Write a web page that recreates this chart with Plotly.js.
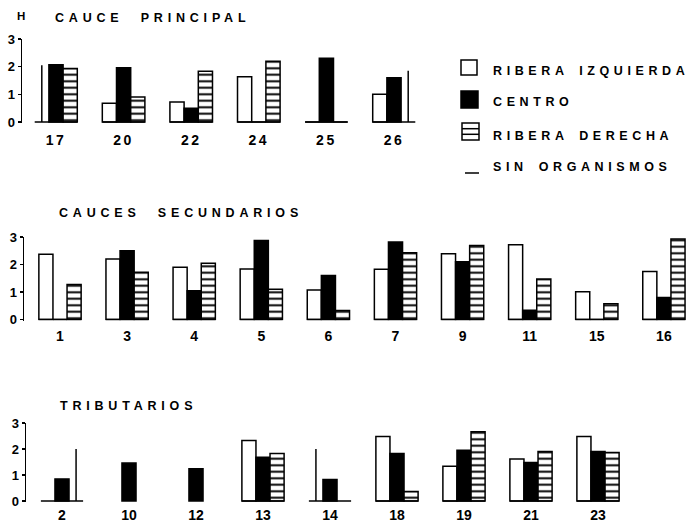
<!DOCTYPE html>
<html><head><meta charset="utf-8">
<script src="https://cdn.plot.ly/plotly-3.0.1.min.js"></script>
<style>body{margin:0;background:#fff}</style>
</head><body><div id="chart" style="width:688px;height:525px"></div>
<script>
// ---- DATA (H index per station; null = no bar; sin* = "sin organismos" marker height)
const principalSites  = ['17','20','22','24','25','26'];
const principalIzq    = [null, 0.68, 0.72, 1.64, 0, 1.0];
const principalCentro = [2.07, 1.96, 0.5, 0, 2.3, 1.6];
const principalDer    = [1.93, 0.9, 1.83, 2.2, 0, null];
const principalSinIzq = [2.05, null, null, null, null, null];
const principalSinDer = [null, null, null, null, null, 1.85];

const secundSites  = ['1','3','4','5','6','7','9','11','15','16'];
const secundIzq    = [2.37, 2.2, 1.9, 1.84, 1.07, 1.83, 2.39, 2.72, 1.01, 1.75];
const secundCentro = [0, 2.5, 1.05, 2.87, 1.6, 2.82, 2.1, 0.34, 0, 0.8];
const secundDer    = [1.27, 1.72, 2.05, 1.1, 0.33, 2.43, 2.69, 1.47, 0.57, 2.93];
const secundSinIzq = [null, null, null, null, null, null, null, null, null, null];
const secundSinDer = [null, null, null, null, null, null, null, null, null, null];

const tribSites  = ['2','10','12','13','14','18','19','21','23'];
const tribIzq    = [null, null, null, 2.33, null, 2.48, 1.34, 1.62, 2.48];
const tribCentro = [0.85, 1.46, 1.24, 1.68, 0.83, 1.83, 1.95, 1.48, 1.9];
const tribDer    = [null, null, null, 1.83, null, 0.37, 2.66, 1.9, 1.87];
const tribSinIzq = [null, null, null, null, 2.0, null, null, null, null];
const tribSinDer = [2.0, null, null, null, null, null, null, null, null];

const yTicks = [0, 1, 2, 3];
const legendLabels = ['RIBERA IZQUIERDA', 'CENTRO', 'RIBERA DERECHA', 'SIN ORGANISMOS'];
const panelTitles = ['CAUCE PRINCIPAL', 'CAUCES SECUNDARIOS', 'TRIBUTARIOS'];

// ---- LAYOUT helpers
const W = 688, H = 525, BW = 0.21, LW = 1.5;
const FONT = 'Liberation Sans, Arial, Helvetica, sans-serif';
const INK = '#000';
const px = x => x / W, py = y => 1 - y / H;

const panels = [
  {sites: principalSites, izq: principalIzq, cen: principalCentro, der: principalDer, sI: principalSinIzq, sD: principalSinDer,
   axisPx: 22, c0: 56, step: 67.6, base: 122, top: 39, tx: 53, ty: 18, stand: 7},
  {sites: secundSites, izq: secundIzq, cen: secundCentro, der: secundDer, sI: secundSinIzq, sD: secundSinDer,
   axisPx: 24, c0: 60, step: 67.1, base: 319.5, top: 237, tx: 57, ty: 213, stand: 5},
  {sites: tribSites, izq: tribIzq, cen: tribCentro, der: tribDer, sI: tribSinIzq, sD: tribSinDer,
   axisPx: 26, c0: 62, step: 67.0, base: 501, top: 423, tx: 58, ty: 406, stand: 3}
];

const data = [], shapes = [], annotations = [];
const layout = {
  width: W, height: H, margin: {l: 0, r: 0, t: 0, b: 0},
  paper_bgcolor: '#fff', plot_bgcolor: 'rgba(0,0,0,0)',
  barmode: 'overlay', showlegend: false,
  font: {family: FONT, color: INK}
};

panels.forEach((p, k) => {
  const sfx = k === 0 ? '' : String(k + 1);
  const xa = 'x' + sfx, ya = 'y' + sfx;
  const idx = p.sites.map((_, i) => i);
  const common = {type: 'bar', x: idx, xaxis: xa, yaxis: ya, width: BW, hoverinfo: 'skip'};
  data.push(Object.assign({}, common, {name: legendLabels[0], y: p.izq, offset: -1.5 * BW,
    marker: {color: '#fff', line: {color: '#000', width: LW}}}));
  data.push(Object.assign({}, common, {name: legendLabels[1], y: p.cen, offset: -0.5 * BW,
    marker: {color: '#000', line: {color: '#000', width: LW}}}));
  data.push(Object.assign({}, common, {name: legendLabels[2], y: p.der, offset: 0.5 * BW,
    marker: {color: '#fff', line: {color: '#000', width: LW},
      pattern: {shape: '-', fgcolor: '#000', bgcolor: '#fff', size: 6.5, solidity: 0.3, fillmode: 'replace'}}}));
  const sw = 0.022;
  data.push(Object.assign({}, common, {name: legendLabels[3], y: p.sI, width: sw, offset: -BW - sw / 2,
    marker: {color: '#000', line: {width: 0}}}));
  data.push(Object.assign({}, common, {name: legendLabels[3], y: p.sD, width: sw, offset: BW - sw / 2,
    marker: {color: '#000', line: {width: 0}}}));

  // baselines under groups where the bank positions were sampled
  idx.forEach(i => {
    if (p.izq[i] != null || p.der[i] != null || p.sI[i] != null || p.sD[i] != null) {
      shapes.push({type: 'line', xref: xa, yref: ya, x0: i - 1.5 * BW, x1: i + 1.5 * BW, y0: 0, y1: 0,
        line: {color: '#000', width: LW}});
    }
  });

  const scale = (p.base - p.top) / 3, pad = 0.04;
  layout['xaxis' + sfx] = {
    domain: [px(p.axisPx), 1], anchor: ya,
    range: [(p.axisPx - p.c0) / p.step, (W - p.c0) / p.step],
    showline: false, showgrid: false, zeroline: false, ticks: '',
    tickmode: 'array', tickvals: idx, ticktext: p.sites, ticklabelstandoff: p.stand,
    tickfont: {size: 14, family: FONT, weight: 700, color: INK}, fixedrange: true
  };
  layout['yaxis' + sfx] = {
    domain: [py(p.base + pad * scale), py(p.top)], anchor: xa,
    range: [-pad, 3], showline: true, linecolor: '#000', linewidth: LW,
    showgrid: false, zeroline: false, ticks: 'outside', ticklen: 3, tickwidth: LW, tickcolor: '#000',
    tickmode: 'array', tickvals: yTicks, ticktext: yTicks.map(String),
    tickfont: {size: 13, family: FONT, weight: 700, color: INK}, fixedrange: true
  };
  annotations.push({xref: 'paper', yref: 'paper', x: px(p.tx), y: py(p.ty), xanchor: 'left', yanchor: 'middle',
    align: 'left', showarrow: false, text: panelTitles[k],
    font: {size: 12.5, family: FONT, weight: 700, color: INK}});
});

annotations.push({xref: 'paper', yref: 'paper', x: px(21), y: py(16), xanchor: 'center', yanchor: 'middle',
  showarrow: false, text: 'H', font: {size: 11.5, family: FONT, weight: 700, color: INK}});

// manual legend
shapes.push({type: 'rect', xref: 'paper', yref: 'paper', x0: px(461), x1: px(477), y0: py(75), y1: py(60),
  line: {color: '#000', width: LW}, fillcolor: '#fff'});
shapes.push({type: 'rect', xref: 'paper', yref: 'paper', x0: px(461), x1: px(478), y0: py(108), y1: py(91),
  line: {color: '#000', width: LW}, fillcolor: '#000'});
shapes.push({type: 'rect', xref: 'paper', yref: 'paper', x0: px(462), x1: px(479), y0: py(140), y1: py(123),
  line: {color: '#000', width: LW}, fillcolor: '#fff'});
[128.7, 134.3].forEach(yy => shapes.push({type: 'line', xref: 'paper', yref: 'paper', x0: px(462), x1: px(479),
  y0: py(yy), y1: py(yy), line: {color: '#000', width: LW}}));
shapes.push({type: 'line', xref: 'paper', yref: 'paper', x0: px(465), x1: px(479), y0: py(173), y1: py(173),
  line: {color: '#000', width: LW}});
const lgY = [71, 102.5, 136, 166.7];
legendLabels.forEach((t, i) => annotations.push({xref: 'paper', yref: 'paper', x: px(491), y: py(lgY[i]),
  xanchor: 'left', yanchor: 'middle', align: 'left', showarrow: false, text: t,
  font: {size: 12.5, family: FONT, weight: 700, color: INK}}));

layout.shapes = shapes;
layout.annotations = annotations;

Plotly.newPlot('chart', data, layout, {staticPlot: true, displayModeBar: false}).then(() => {
  document.querySelectorAll('.annotation-text').forEach(t => {
    const s = t.textContent;
    if (s === 'H') return;
    if (panelTitles.includes(s)) { t.style.letterSpacing = '4.8px'; t.style.wordSpacing = '9px'; }
    else { t.style.letterSpacing = '4.6px'; t.style.wordSpacing = '3px'; }
  });
  document.querySelectorAll('.xtick text').forEach(t => { t.style.letterSpacing = '2.5px'; });
});
</script>
</body></html>
